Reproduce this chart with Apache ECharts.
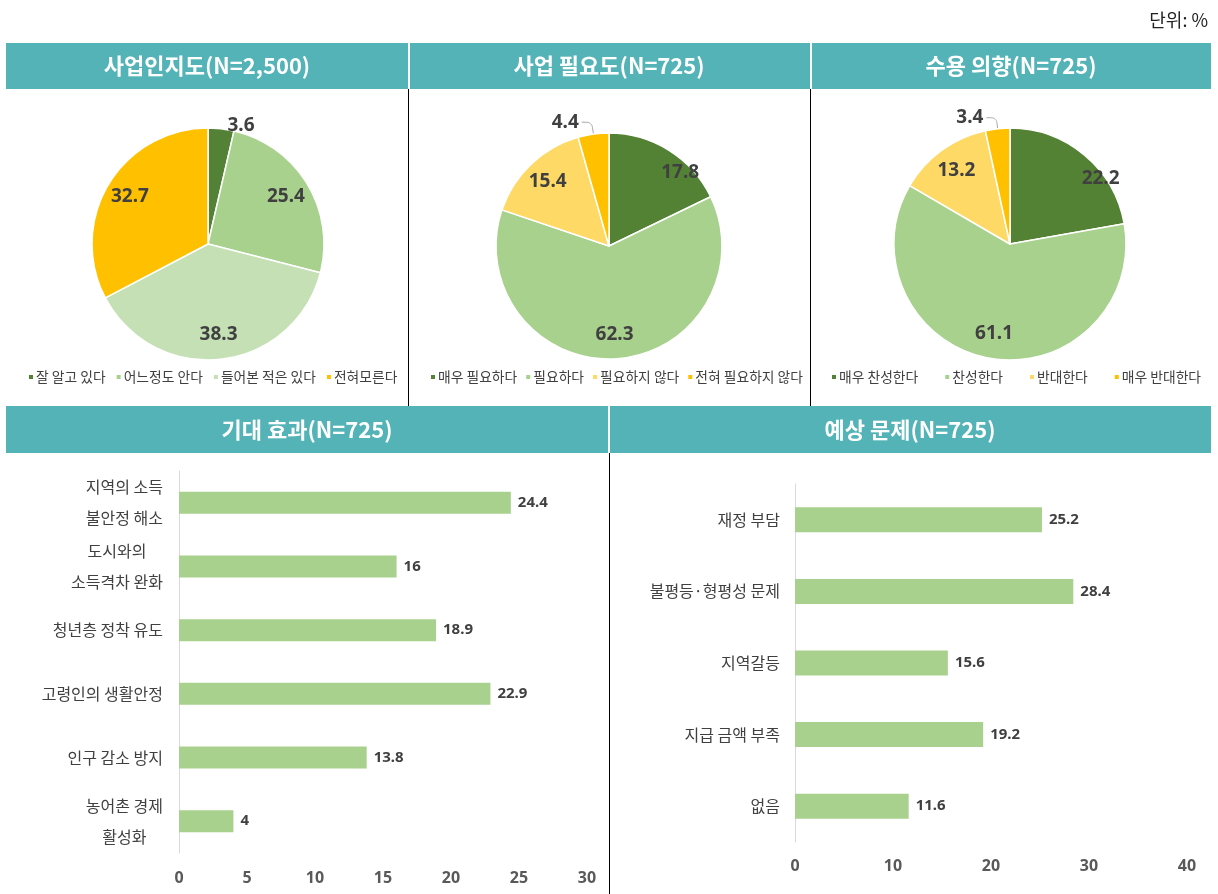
<!DOCTYPE html>
<html><head><meta charset="utf-8">
<script src="https://cdn.jsdelivr.net/npm/echarts@6/dist/echarts.min.js"></script>
<style>html,body{margin:0;padding:0;background:#fff}#c{width:1218px;height:894px}</style>
</head><body><div id="c"></div><script>
// ---- data ----
const unitText = '단위: %';
const panelTitles = ['사업인지도(N=2,500)', '사업 필요도(N=725)', '수용 의향(N=725)', '기대 효과(N=725)', '예상 문제(N=725)'];

const awarenessNames = ['잘 알고 있다', '어느정도 안다', '들어본 적은 있다', '전혀모른다'];
const awarenessValues = [3.6, 25.4, 38.3, 32.7];

const needNames = ['매우 필요하다', '필요하다', '필요하지 않다', '전혀 필요하지 않다'];
const needValues = [17.8, 62.3, 15.4, 4.4];

const acceptNames = ['매우 찬성한다', '찬성한다', '반대한다', '매우 반대한다'];
const acceptValues = [22.2, 61.1, 13.2, 3.4];

const effectCats = ['지역의 소득\n불안정 해소', '도시와의\n소득격차 완화', '청년층 정착 유도', '고령인의 생활안정', '인구 감소 방지', '농어촌 경제\n활성화'];
const effectValues = [24.4, 16, 18.9, 22.9, 13.8, 4];
const effectTicks = [0, 5, 10, 15, 20, 25, 30];

const problemCats = ['재정 부담', '불평등·형평성 문제', '지역갈등', '지급 금액 부족', '없음'];
const problemValues = [25.2, 28.4, 15.6, 19.2, 11.6];
const problemTicks = [0, 10, 20, 30, 40];

// ---- styles ----
const KR = "'Noto Sans CJK KR', 'Noto Sans', sans-serif";
const NUM = "'Noto Sans', 'Noto Sans CJK KR', sans-serif";
const TEAL = '#53B3B6';
const colorsA = ['#538135', '#A9D18E', '#C5E0B4', '#FFC000'];
const colorsB = ['#548235', '#A9D18E', '#FFD966', '#FFC000'];
const BAR = '#A9D18E';
const LABEL = '#404040';

// label placement tweaks (style only)
const firstSliceLabelShift = { need: [24, 2], accept: [32, 4] };

function pieSeries(names, values, colors, center, r, smallIdx, smallLine, firstShift) {
  const main = {
    type: 'pie', center: center, radius: r, startAngle: 90, clockwise: true,
    silent: true, animation: false,
    itemStyle: { borderColor: '#fff', borderWidth: 1.5 },
    label: { show: false }, labelLine: { show: false },
    data: names.map((n, i) => ({ name: n, value: values[i], itemStyle: { color: colors[i] } }))
  };
  const overlay = {
    type: 'pie', center: center, radius: [r * 0.52, r], startAngle: 90, clockwise: true,
    silent: true, animation: false, avoidLabelOverlap: false,
    itemStyle: { color: 'transparent' },
    label: { show: true, position: 'inside', formatter: '{c}', fontFamily: NUM, fontWeight: 'bold', fontSize: 19, color: LABEL },
    labelLine: { show: false },
    data: names.map((n, i) => {
      const d = { name: n, value: values[i] };
      if (i === smallIdx) {
        d.label = { position: 'outside', distanceToLabelLine: 3 };
        d.labelLine = smallLine;
      } else if (i === 0 && firstShift) {
        d.label = { offset: firstShift };
      }
      return d;
    })
  };
  return [main, overlay];
}

const legendCommon = {
  icon: 'rect', itemWidth: 6, itemHeight: 6, padding: 0, top: 370,
  selectedMode: false,
  textStyle: { fontFamily: KR, fontSize: 13.8, color: LABEL, padding: [0, 0, 0, -3] }
};

function catLabel(v) {
  return v.split('\n').map(s => '{c|' + s + '}').join('\n');
}

const titleFont = "bold 22px " + KR;

const option = {
  animation: false,
  graphic: [
    { type: 'text', right: 10, top: 11, style: { text: unitText, font: "18px " + KR, fill: '#222' } },
    { type: 'rect', shape: { x: 6, y: 43, width: 402, height: 46 }, style: { fill: TEAL } },
    { type: 'rect', shape: { x: 410, y: 43, width: 400, height: 46 }, style: { fill: TEAL } },
    { type: 'rect', shape: { x: 812, y: 43, width: 399, height: 46 }, style: { fill: TEAL } },
    { type: 'rect', shape: { x: 6, y: 406, width: 602, height: 47 }, style: { fill: TEAL } },
    { type: 'rect', shape: { x: 610, y: 406, width: 601, height: 47 }, style: { fill: TEAL } },
    { type: 'line', shape: { x1: 408.5, y1: 89, x2: 408.5, y2: 406 }, style: { stroke: '#000', lineWidth: 1 } },
    { type: 'line', shape: { x1: 810.5, y1: 89, x2: 810.5, y2: 406 }, style: { stroke: '#000', lineWidth: 1 } },
    { type: 'line', shape: { x1: 609.5, y1: 453, x2: 609.5, y2: 894 }, style: { stroke: '#000', lineWidth: 1 } },
    { type: 'text', x: 207, y: 66, style: { text: panelTitles[0], font: titleFont, fill: '#fff', textAlign: 'center', textVerticalAlign: 'middle' } },
    { type: 'text', x: 609, y: 66, style: { text: panelTitles[1], font: titleFont, fill: '#fff', textAlign: 'center', textVerticalAlign: 'middle' } },
    { type: 'text', x: 1011, y: 66, style: { text: panelTitles[2], font: titleFont, fill: '#fff', textAlign: 'center', textVerticalAlign: 'middle' } },
    { type: 'text', x: 307, y: 430, style: { text: panelTitles[3], font: titleFont, fill: '#fff', textAlign: 'center', textVerticalAlign: 'middle' } },
    { type: 'text', x: 910, y: 430, style: { text: panelTitles[4], font: titleFont, fill: '#fff', textAlign: 'center', textVerticalAlign: 'middle' } }
  ],
  legend: [
    Object.assign({}, legendCommon, { left: 27, itemGap: 9, data: awarenessNames }),
    Object.assign({}, legendCommon, { left: 429, itemGap: 7, data: needNames }),
    Object.assign({}, legendCommon, { left: 830, itemGap: 25, data: acceptNames })
  ],
  grid: [
    { left: 179, top: 471, width: 408, height: 382 },
    { left: 795, top: 484, width: 392, height: 358 }
  ],
  xAxis: [
    { gridIndex: 0, type: 'value', min: effectTicks[0], max: effectTicks[effectTicks.length - 1], interval: effectTicks[1] - effectTicks[0],
      axisLine: { show: false }, axisTick: { show: false }, splitLine: { show: false },
      axisLabel: { margin: 17, fontFamily: NUM, fontSize: 16, fontWeight: 'bold', color: '#595959' } },
    { gridIndex: 1, type: 'value', min: problemTicks[0], max: problemTicks[problemTicks.length - 1], interval: problemTicks[1] - problemTicks[0],
      axisLine: { show: false }, axisTick: { show: false }, splitLine: { show: false },
      axisLabel: { margin: 16, fontFamily: NUM, fontSize: 16, fontWeight: 'bold', color: '#595959' } }
  ],
  yAxis: [
    { gridIndex: 0, type: 'category', data: effectCats, inverse: true,
      axisLine: { show: true, lineStyle: { color: '#D9D9D9' } }, axisTick: { show: false },
      axisLabel: { interval: 0, margin: 16, formatter: catLabel,
        rich: { c: { align: 'center', fontFamily: KR, fontSize: 16, lineHeight: 31, color: LABEL } } } },
    { gridIndex: 1, type: 'category', data: problemCats, inverse: true,
      axisLine: { show: true, lineStyle: { color: '#D9D9D9' } }, axisTick: { show: false },
      axisLabel: { interval: 0, margin: 15, formatter: catLabel,
        rich: { c: { align: 'center', fontFamily: KR, fontSize: 16, lineHeight: 31, color: LABEL } } } }
  ],
  series: [].concat(
    pieSeries(awarenessNames, awarenessValues, colorsA, [208, 244], 116, 0,
      { show: false, length: 3, length2: 3 }, null),
    pieSeries(needNames, needValues, colorsB, [609, 246], 113, 3,
      { show: true, length: 12, length2: 10, smooth: 0.3, lineStyle: { color: '#A6A6A6', width: 1 } }, firstSliceLabelShift.need),
    pieSeries(acceptNames, acceptValues, colorsB, [1010, 244], 116, 3,
      { show: true, length: 11, length2: 10, smooth: 0.3, lineStyle: { color: '#A6A6A6', width: 1 } }, firstSliceLabelShift.accept),
    [
      { type: 'bar', xAxisIndex: 0, yAxisIndex: 0, data: effectValues, barWidth: 22, silent: true,
        itemStyle: { color: BAR },
        label: { show: true, position: 'right', distance: 7, formatter: '{c}', fontFamily: NUM, fontSize: 15, fontWeight: 'bold', color: LABEL } },
      { type: 'bar', xAxisIndex: 1, yAxisIndex: 1, data: problemValues, barWidth: 25, silent: true,
        itemStyle: { color: BAR },
        label: { show: true, position: 'right', distance: 7, formatter: '{c}', fontFamily: NUM, fontSize: 15, fontWeight: 'bold', color: LABEL } }
    ]
  )
};

const chart = echarts.init(document.getElementById('c'), null, { renderer: 'canvas' });
chart.setOption(option);
</script></body></html>
